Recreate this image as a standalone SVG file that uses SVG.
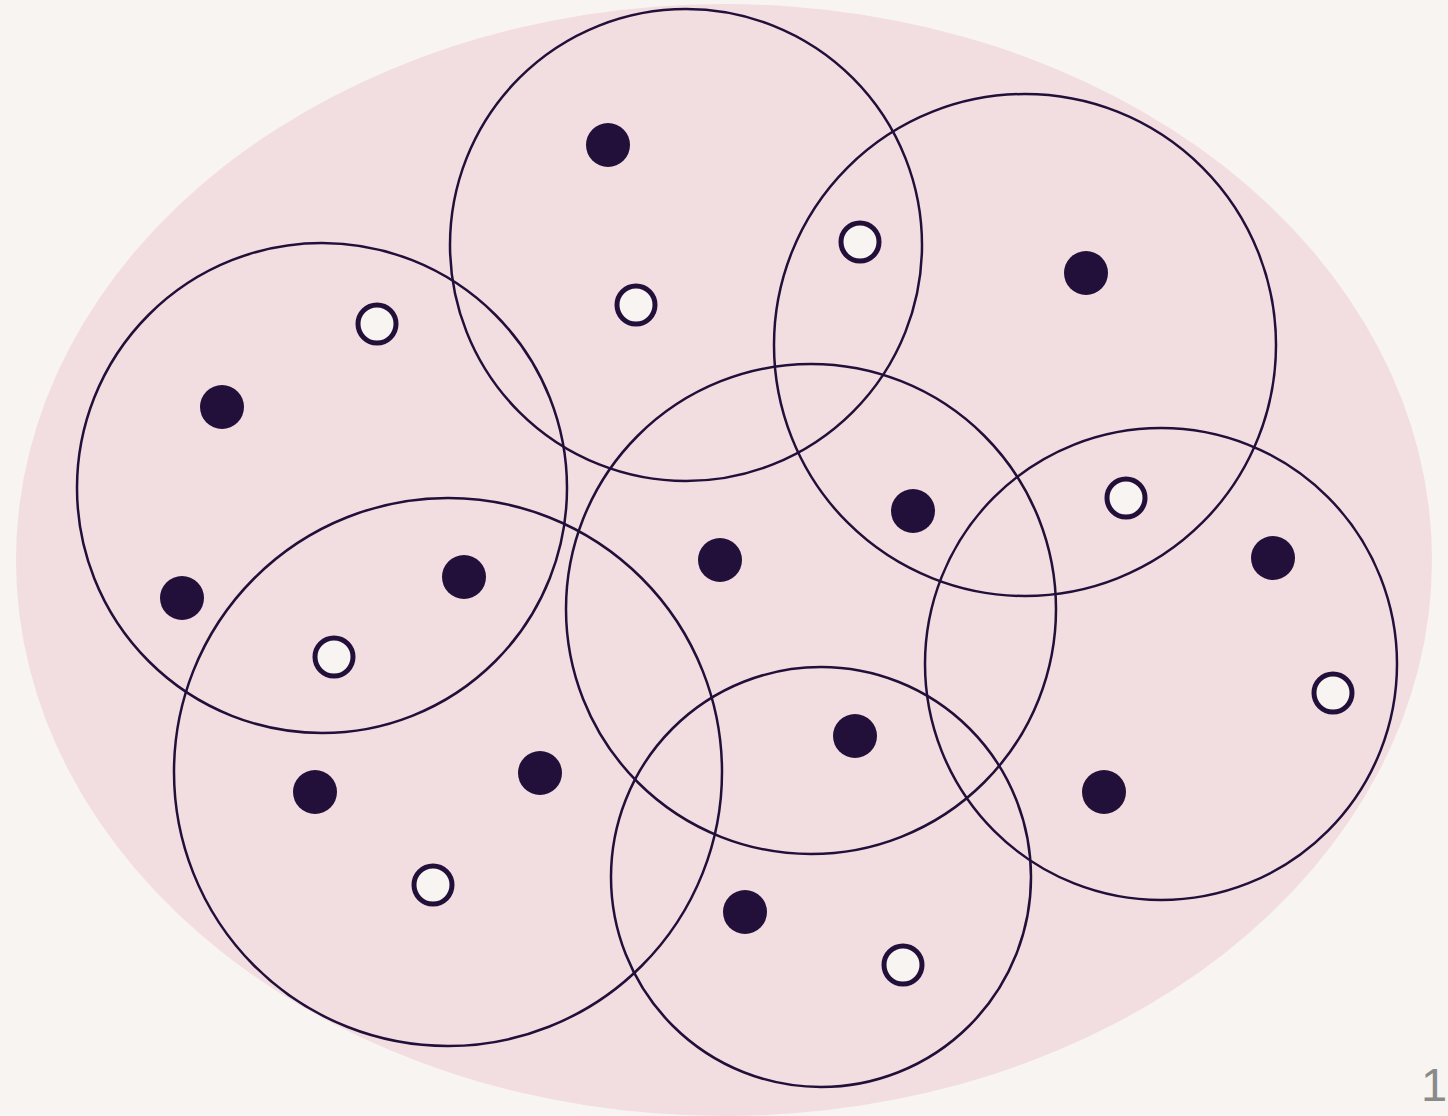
<svg xmlns="http://www.w3.org/2000/svg" width="1448" height="1116" viewBox="0 0 1448 1116">
<style>
.ring{fill:none;stroke:#22103a;stroke-width:2.5}
.full{fill:#22103a}
.open{fill:#f8f4f1;stroke:#22103a;stroke-width:5}
</style>
<rect width="1448" height="1116" fill="#f8f4f1"/>
<ellipse cx="724" cy="560" rx="708" ry="556" fill="#f2dde1"/>
<g id="rings">
<circle class="ring" cx="686" cy="245" r="236"/>
<circle class="ring" cx="1025" cy="345" r="251"/>
<circle class="ring" cx="322" cy="488" r="245"/>
<circle class="ring" cx="811" cy="609" r="245"/>
<circle class="ring" cx="1161" cy="664" r="236"/>
<circle class="ring" cx="448" cy="772" r="274"/>
<circle class="ring" cx="821" cy="877" r="210"/>
</g>
<g id="filled">
<circle class="full" cx="608" cy="145" r="22"/>
<circle class="full" cx="1086" cy="273" r="22"/>
<circle class="full" cx="222" cy="407" r="22"/>
<circle class="full" cx="913" cy="511" r="22"/>
<circle class="full" cx="720" cy="560" r="22"/>
<circle class="full" cx="1273" cy="558" r="22"/>
<circle class="full" cx="182" cy="598" r="22"/>
<circle class="full" cx="464" cy="577" r="22"/>
<circle class="full" cx="855" cy="736" r="22"/>
<circle class="full" cx="315" cy="792" r="22"/>
<circle class="full" cx="540" cy="773" r="22"/>
<circle class="full" cx="1104" cy="792" r="22"/>
<circle class="full" cx="745" cy="912" r="22"/>
</g>
<g id="hollow">
<circle class="open" cx="860" cy="242" r="19"/>
<circle class="open" cx="636" cy="305" r="19"/>
<circle class="open" cx="377" cy="324" r="19"/>
<circle class="open" cx="1126" cy="498" r="19"/>
<circle class="open" cx="334" cy="657" r="19"/>
<circle class="open" cx="1333" cy="693" r="19"/>
<circle class="open" cx="433" cy="885" r="19"/>
<circle class="open" cx="903" cy="965" r="19"/>
</g>
<text x="1421" y="1101" font-family="Liberation Sans, Arial, sans-serif" font-size="47" fill="#8a8a8a">10</text>
</svg>
